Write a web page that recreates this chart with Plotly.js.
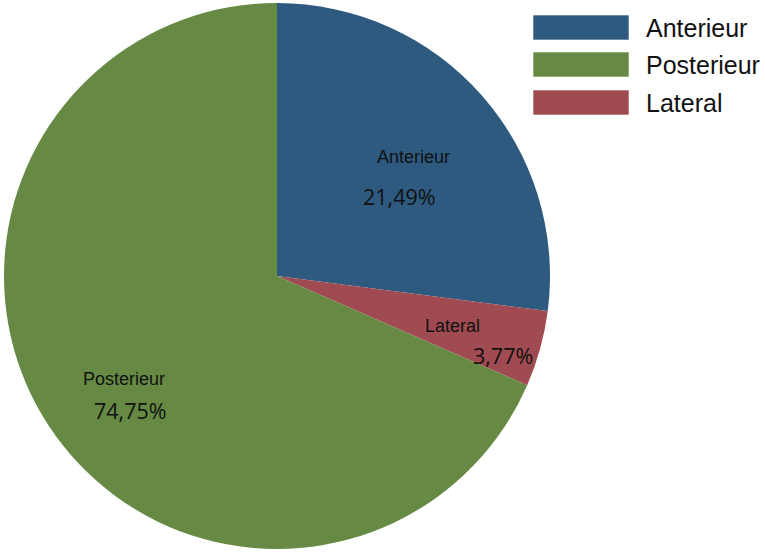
<!DOCTYPE html>
<html>
<head>
<meta charset="utf-8">
<script src="https://cdn.plot.ly/plotly-3.0.1.min.js"></script>
<style>html,body{margin:0;padding:0;background:#fff;}#chart{width:765px;height:553px;}</style>
</head>
<body>
<div id="chart"></div>
<script>
// Slice order clockwise from 12 o'clock (as drawn)
var categories = ["Anterieur", "Lateral", "Posterieur"];
var sliceValues = [27.05, 4.5, 68.45];
// Percentage labels printed on the chart
var pctLabels = ["21,49%", "3,77%", "74,75%"];
var colors = ["#2E5A80", "#A04B51", "#668A44"];
// Legend order
var legendOrder = ["Anterieur", "Posterieur", "Lateral"];

var W = 765, H = 553;
function px(x){ return x / W; }
function py(y){ return 1 - y / H; }

var trace = {
  type: "pie",
  labels: categories,
  values: sliceValues,
  sort: false,
  direction: "clockwise",
  rotation: 0,
  textinfo: "none",
  hoverinfo: "label+value",
  marker: { colors: colors, line: { width: 0 } },
  domain: { x: [px(4), px(550)], y: [py(549), py(3)] },
  showlegend: false
};

// Label positions (pixels) for category name and percentage, per category
var namePos = { "Anterieur": [413, 157], "Lateral": [452, 326], "Posterieur": [124, 379] };
var pctPos  = { "Anterieur": [399, 196], "Lateral": [503, 355], "Posterieur": [130, 410] };

var annotations = [];
var shapes = [];
categories.forEach(function(c, i){
  annotations.push({ xref: "paper", yref: "paper", x: px(namePos[c][0]), y: py(namePos[c][1]),
    xanchor: "center", yanchor: "middle", showarrow: false, text: c,
    font: { family: "Liberation Sans, Arial, sans-serif", size: 18, color: "#111" } });
  annotations.push({ xref: "paper", yref: "paper", x: px(pctPos[c][0]), y: py(pctPos[c][1]),
    xanchor: "center", yanchor: "middle", showarrow: false, text: pctLabels[i],
    font: { family: "Open Sans, sans-serif", size: 21.5, color: "#111" } });
});

// Manual legend
var legendTops = [15, 52, 90];
legendOrder.forEach(function(c, k){
  var idx = categories.indexOf(c);
  var top = legendTops[k];
  shapes.push({ type: "rect", xref: "paper", yref: "paper",
    x0: px(533), x1: px(629), y0: py(top + 25), y1: py(top),
    fillcolor: colors[idx], line: { width: 1, color: "rgba(255,255,255,0.6)" } });
  annotations.push({ xref: "paper", yref: "paper", x: px(644), y: py(top + 13),
    xanchor: "left", yanchor: "middle", showarrow: false, text: c,
    font: { family: "Liberation Sans, Arial, sans-serif", size: 25, color: "#111" } });
});

var layout = {
  width: W, height: H,
  margin: { l: 0, r: 0, t: 0, b: 0 },
  paper_bgcolor: "#fff",
  showlegend: false,
  annotations: annotations,
  shapes: shapes
};

Plotly.newPlot("chart", [trace], layout, { displayModeBar: false, staticPlot: true });
</script>
</body>
</html>
